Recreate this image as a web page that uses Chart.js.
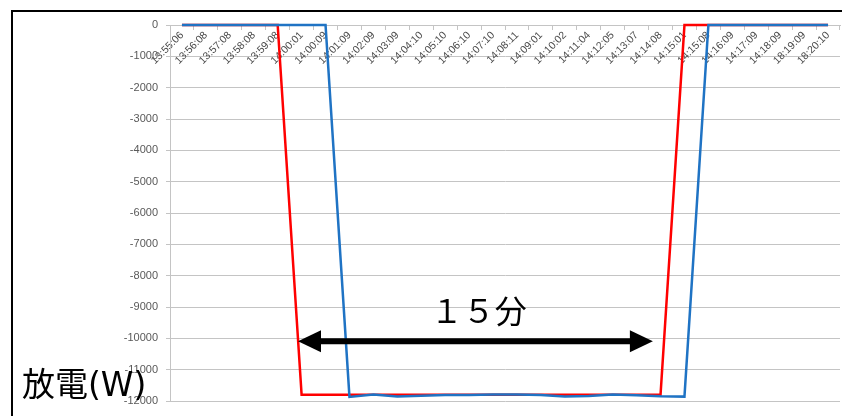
<!DOCTYPE html>
<html>
<head>
<meta charset="utf-8">
<script src="https://cdn.jsdelivr.net/npm/chart.js@4/dist/chart.umd.min.js"></script>
<style>
  html, body { margin: 0; padding: 0; background: #fff; overflow: hidden; }
  canvas { display: block; }
</style>
</head>
<body>
<canvas id="c" width="842" height="416"></canvas>
<script>
// Sample times (category axis)
const timeLabels = [
  '13:55:06', '13:56:08', '13:57:08', '13:58:08', '13:59:08', '14:00:01', '14:00:09',
  '14:01:09', '14:02:09', '14:03:09', '14:04:10', '14:05:10', '14:06:10', '14:07:10',
  '14:08:11', '14:09:01', '14:10:02', '14:11:04', '14:12:05', '14:13:07', '14:14:08',
  '14:15:01', '14:15:08', '14:16:09', '14:17:09', '14:18:09', '18:19:09', '18:20:10'
];

// Discharge power (W), commanded profile
const redSeries = [
  0, 0, 0, 0, 0,
  -11800, -11800, -11800, -11800, -11800, -11800, -11800, -11800,
  -11800, -11800, -11800, -11800, -11800, -11800, -11800, -11800,
  0, 0, 0, 0, 0, 0, 0
];

// Discharge power (W), measured
const blueSeries = [
  0, 0, 0, 0, 0, 0, 0,
  -11870, -11790, -11860, -11830, -11810, -11810, -11790, -11790,
  -11810, -11860, -11840, -11790, -11820, -11850, -11860,
  0, 0, 0, 0, 0, 0
];

// Value axis range
const yMin = -12000;
const yMax = 0;
const yStep = 1000;

const axisTitle = '放電(W)';
const spanLabel = '１５分';

const gridGray = '#c4c4c4';
const tickGray = '#595959';

const annotate = {
  id: 'annotate',
  beforeDraw(chart) {
    const ctx = chart.ctx;
    ctx.save();
    ctx.fillStyle = '#fff';
    ctx.fillRect(0, 0, chart.width, chart.height);
    ctx.restore();
  },
  afterDraw(chart) {
    const { ctx, scales: { x, y } } = chart;
    ctx.save();

    // outer frame
    ctx.strokeStyle = '#000';
    ctx.lineWidth = 2;
    ctx.strokeRect(12, 11, 900, 500);

    // double-headed span arrow
    const xa = x.getPixelForValue(4.85);
    const xb = x.getPixelForValue(19.68);
    const ya = y.getPixelForValue(-10090);
    const head = 23, half = 11;
    ctx.fillStyle = '#000';
    ctx.strokeStyle = '#000';
    ctx.lineWidth = 6;
    ctx.beginPath();
    ctx.moveTo(xa + head - 2, ya);
    ctx.lineTo(xb - head + 2, ya);
    ctx.stroke();
    ctx.beginPath();
    ctx.moveTo(xa, ya);
    ctx.lineTo(xa + head, ya - half);
    ctx.lineTo(xa + head, ya + half);
    ctx.closePath();
    ctx.fill();
    ctx.beginPath();
    ctx.moveTo(xb, ya);
    ctx.lineTo(xb - head, ya - half);
    ctx.lineTo(xb - head, ya + half);
    ctx.closePath();
    ctx.fill();

    // span label
    ctx.font = '32px "Noto Sans CJK JP"';
    ctx.textAlign = 'center';
    ctx.textBaseline = 'middle';
    ctx.fillText(spanLabel, x.getPixelForValue(12.4), y.getPixelForValue(-9110));

    // value axis title
    ctx.font = '33px "DejaVu Sans", "Noto Sans CJK JP"';
    ctx.textAlign = 'left';
    ctx.textBaseline = 'alphabetic';
    ctx.fillText(axisTitle, 22, 396);

    ctx.restore();
  }
};

new Chart(document.getElementById('c'), {
  type: 'line',
  data: {
    labels: timeLabels,
    datasets: [
      {
        label: 'measured',
        data: blueSeries,
        borderColor: '#1f73c4',
        borderWidth: 2.5,
        pointRadius: 0,
        tension: 0,
        fill: false,
        clip: false
      },
      {
        label: 'command',
        data: redSeries,
        borderColor: '#ff0000',
        borderWidth: 2.5,
        pointRadius: 0,
        tension: 0,
        fill: false,
        clip: false
      }
    ]
  },
  options: {
    responsive: false,
    animation: false,
    devicePixelRatio: 1,
    layout: { padding: { top: 25, right: 2, bottom: 15, left: 0 } },
    plugins: {
      legend: { display: false },
      tooltip: { enabled: false },
      title: { display: false }
    },
    scales: {
      x: {
        type: 'category',
        position: { y: 0 },
        offset: true,
        grid: {
          offset: true,
          drawOnChartArea: false,
          drawTicks: true,
          tickLength: 4,
          color: gridGray
        },
        border: { display: true, color: gridGray, width: 1 },
        ticks: {
          autoSkip: false,
          minRotation: 45,
          maxRotation: 45,
          padding: 0,
          color: '#4a4a4a',
          font: { family: '"Liberation Sans", Arial, sans-serif', size: 10.5 }
        },
        afterFit(scale) { scale.height = 0; }
      },
      y: {
        min: yMin,
        max: yMax,
        grid: {
          color: gridGray,
          drawTicks: true,
          tickLength: 4
        },
        border: { display: true, color: gridGray, width: 1 },
        ticks: {
          stepSize: yStep,
          padding: 8,
          color: tickGray,
          font: { family: '"Liberation Sans", Arial, sans-serif', size: 11 },
          callback: (v) => String(v)
        },
        afterFit(scale) { scale.width = 170; }
      }
    }
  },
  plugins: [annotate]
});
</script>
</body>
</html>
